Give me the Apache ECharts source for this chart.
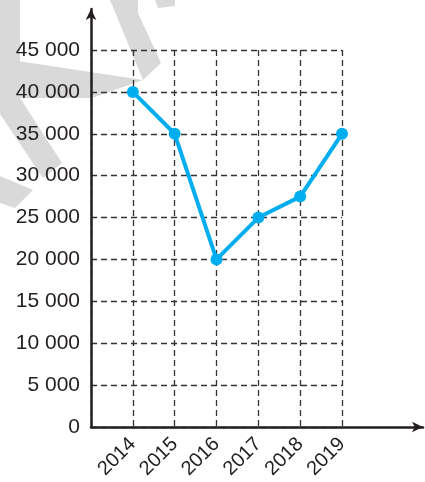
<!DOCTYPE html>
<html>
<head>
<meta charset="utf-8">
<script src="https://cdn.jsdelivr.net/npm/echarts@6/dist/echarts.min.js"></script>
<style>
html,body{margin:0;padding:0;background:#fff;}
#chart{width:425px;height:482px;}
</style>
</head>
<body>
<div id="chart"></div>
<script>
const years = [2014, 2015, 2016, 2017, 2018, 2019];
const values = [40000, 35000, 20000, 25000, 27500, 35000];
const yMin = 0, yMax = 45000, yStep = 5000;

const fmt = v => v === 0 ? '0' : String(v).replace(/\B(?=(\d{3})+(?!\d))/g, ' ');
const ink = '#231f20';
const wm = '#d9d9d9';

const chart = echarts.init(document.getElementById('chart'), null, {renderer: 'canvas'});
chart.setOption({
  animation: false,
  backgroundColor: '#fff',
  textStyle: {fontFamily: 'Liberation Sans, Arial, sans-serif'},
  graphic: [
    {type: 'polygon', z: -10, shape: {points: [[110,0],[138,0],[138,13],[161,63],[143,80]]}, style: {fill: wm}},
    {type: 'polygon', z: -10, shape: {points: [[18,61],[143,80],[92,98],[18,98]]}, style: {fill: wm}},
    {type: 'polygon', z: -10, shape: {points: [[0,0],[20,0],[20,98],[0,98]]}, style: {fill: wm}},
    {type: 'polygon', z: -10, shape: {points: [[0,98],[20,98],[62,163],[43,178],[0,114]]}, style: {fill: wm}},
    {type: 'polygon', z: -10, shape: {points: [[0,176],[33,190],[15,208],[0,203]]}, style: {fill: wm}},
    {type: 'polygon', z: -10, shape: {points: [[155,0],[175,0],[175,6],[158,8]]}, style: {fill: wm}}
  ],
  grid: [
    {left: 91, right: 2, top: 9, bottom: 55, containLabel: false},
    {left: 91, right: 83, top: 50, bottom: 55, containLabel: false}
  ],
  xAxis: [
    {gridIndex: 0, type: 'value', min: 0, max: 1, show: true,
      axisLine: {show: true, lineStyle: {color: ink, width: 2.5}, symbol: ['none','arrow'], symbolSize: [8, 11]},
      axisTick: {show: false}, axisLabel: {show: false}, splitLine: {show: false}},
    {gridIndex: 1, type: 'value', min: 2013, max: 2019, interval: 1,
      axisLine: {show: false}, axisTick: {show: false},
      axisLabel: {show: true, rotate: 45, margin: 14, color: ink, fontSize: 20,
        fontFamily: 'Liberation Sans, Arial, sans-serif',
        formatter: v => (v === 2013 ? '' : String(v))},
      splitLine: {show: true, lineStyle: {color: '#333', width: 1.3, type: [6, 4]}}}
  ],
  yAxis: [
    {gridIndex: 0, type: 'value', min: 0, max: 1,
      axisLine: {show: true, lineStyle: {color: ink, width: 2.5}, symbol: ['none','arrow'], symbolSize: [8, 11]},
      axisTick: {show: false}, axisLabel: {show: false}, splitLine: {show: false}},
    {gridIndex: 1, type: 'value', min: yMin, max: yMax, interval: yStep,
      axisLine: {show: false}, axisTick: {show: false},
      axisLabel: {show: true, margin: 11, color: ink, fontSize: 21,
        fontFamily: 'Liberation Sans, Arial, sans-serif', formatter: fmt},
      splitLine: {show: true, lineStyle: {color: '#333', width: 1.3, type: [6, 4]}}}
  ],
  series: [{
    type: 'line',
    xAxisIndex: 1, yAxisIndex: 1,
    data: years.map((y, i) => [y, values[i]]),
    symbol: 'circle', symbolSize: 12,
    lineStyle: {color: '#00aeef', width: 4},
    itemStyle: {color: '#00aeef'},
    z: 5
  }]
});
</script>
</body>
</html>
